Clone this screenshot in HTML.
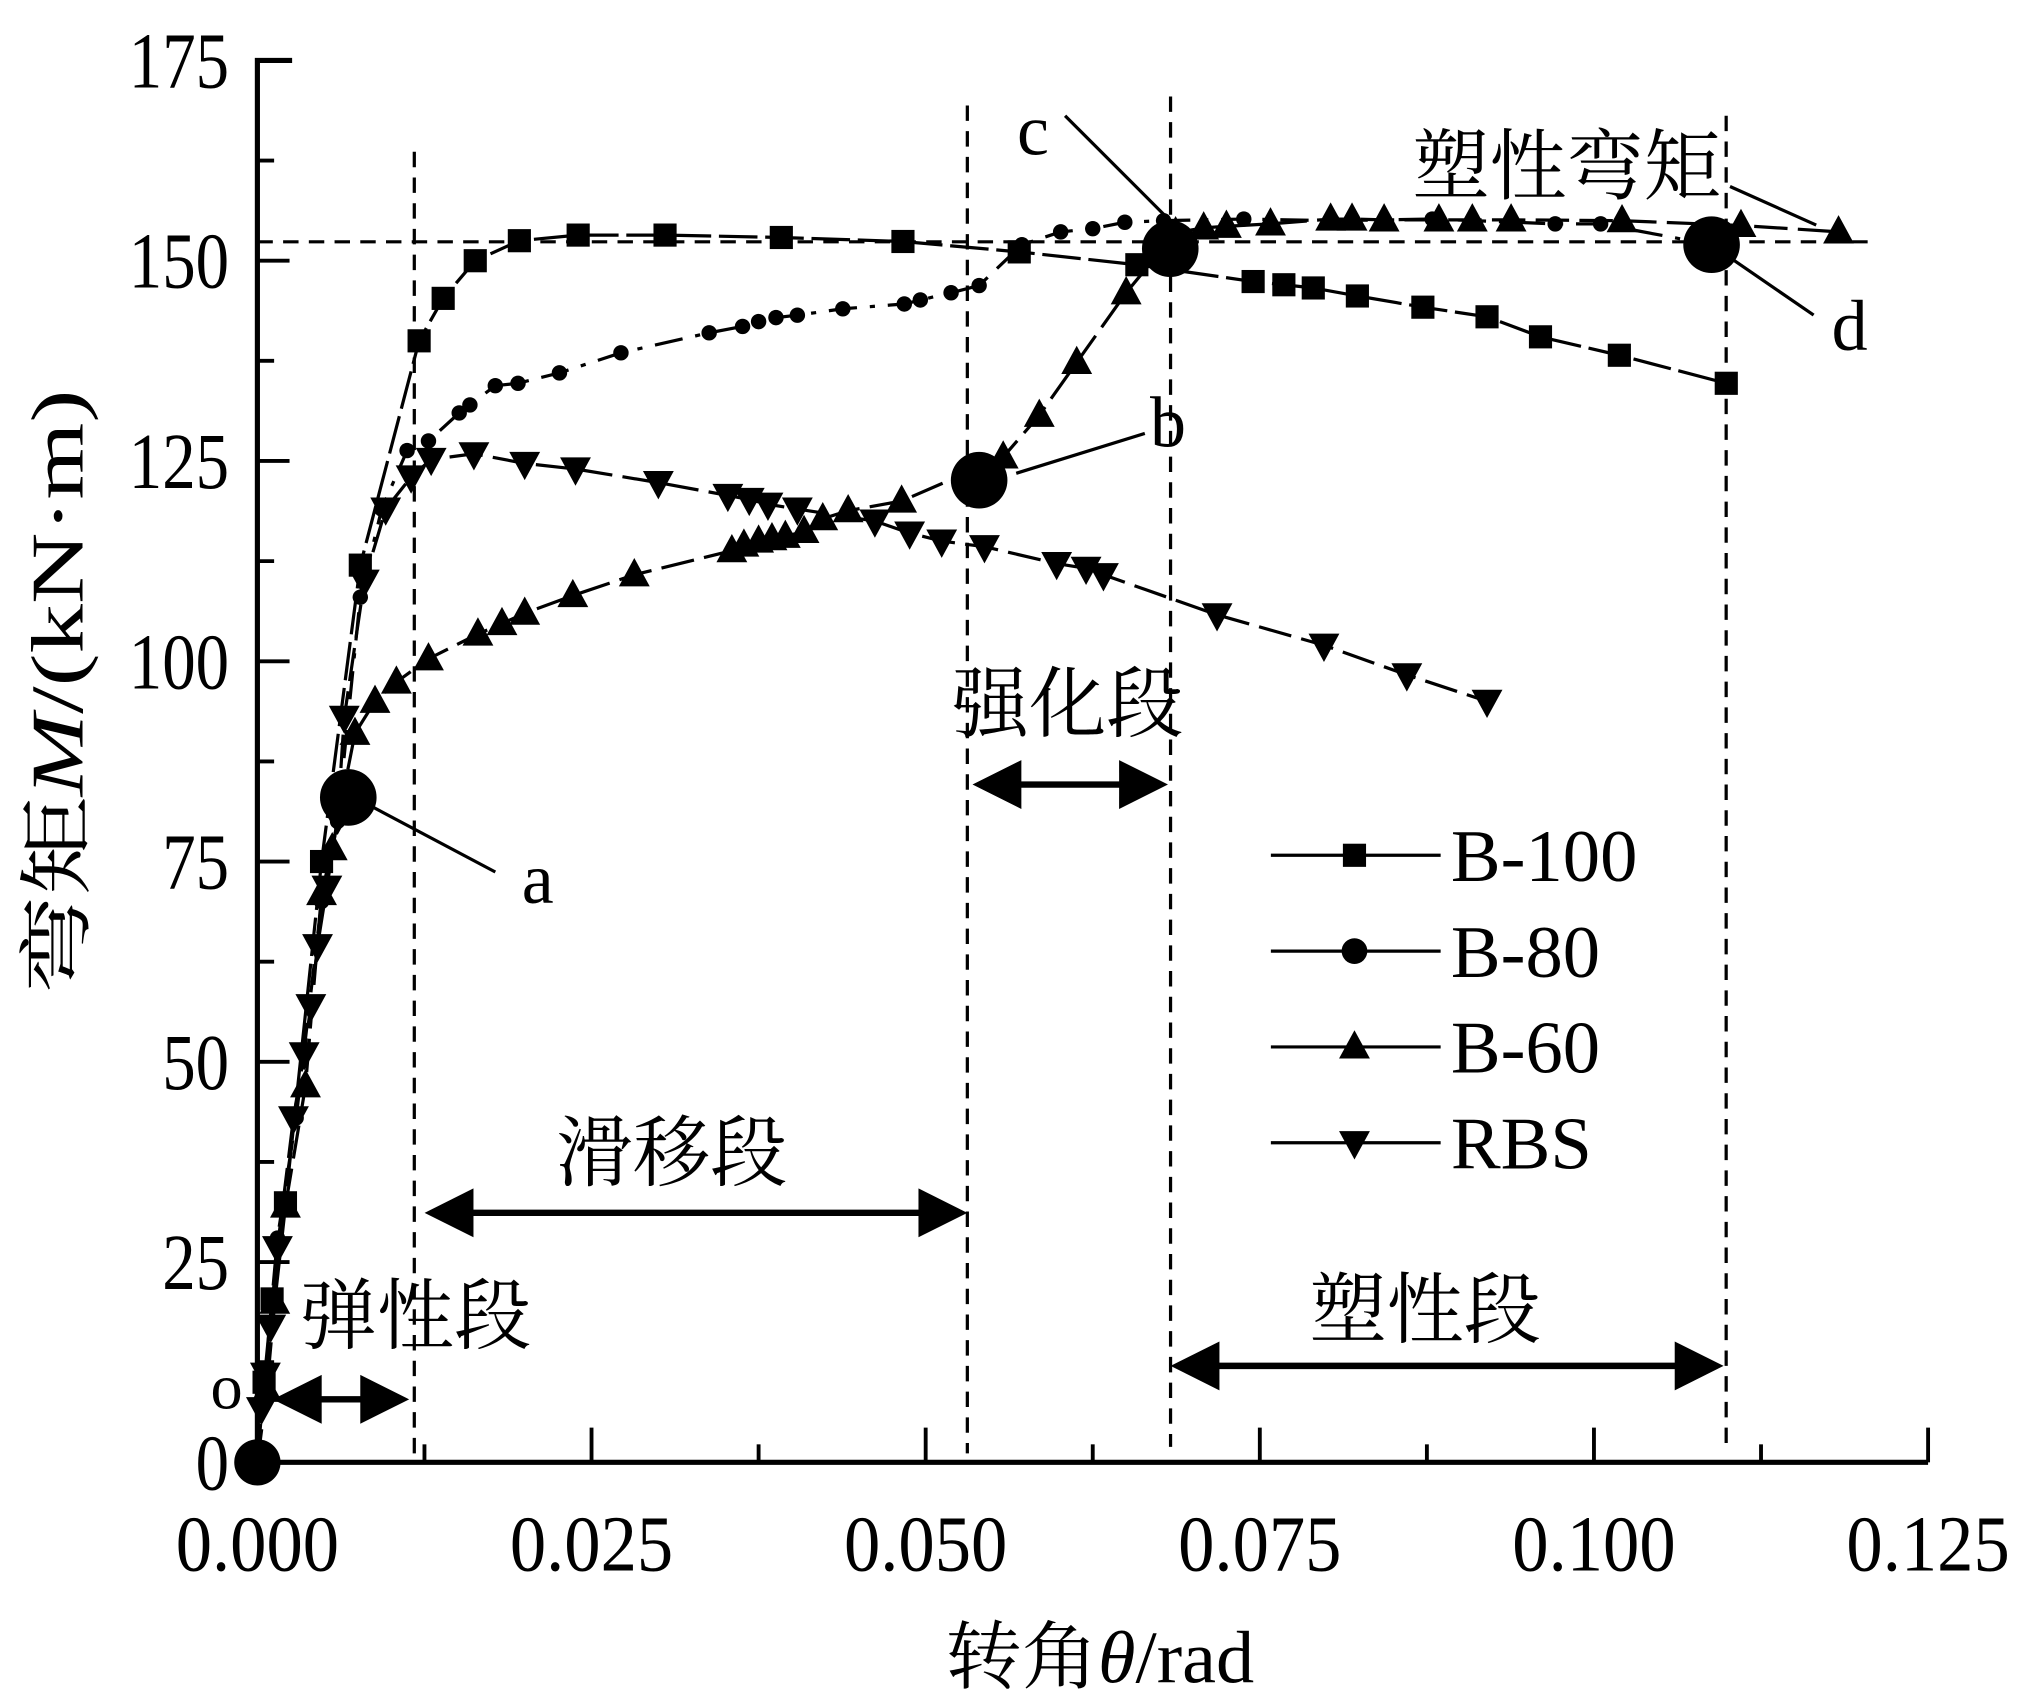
<!DOCTYPE html>
<html><head><meta charset="utf-8"><style>
html,body{margin:0;padding:0;background:#fff;}
svg{display:block;}
text{font-family:"Liberation Serif","Noto Serif CJK SC","Noto Sans CJK SC",serif;fill:#000;}
</style></head><body>
<svg id="chart" width="2017" height="1708" viewBox="0 0 1568 1328" xmlns="http://www.w3.org/2000/svg">
<g id="axes"></g>
<g id="guides"></g>
<g id="series"></g>
<g id="annot"></g>
<g id="legend"></g>
<text transform="translate(64,538) rotate(-90)" text-anchor="middle" font-size="58" textLength="470" lengthAdjust="spacingAndGlyphs">弯矩<tspan font-style="italic">M</tspan>/(kN·m)</text>
<text x="855" y="1308" text-anchor="middle" font-size="58" textLength="240" lengthAdjust="spacingAndGlyphs">转角<tspan font-style="italic">θ</tspan>/rad</text>
</svg>
<script>
const xTicks=[0,0.025,0.05,0.075,0.1,0.125];
const xTickLabels=["0.000","0.025","0.050","0.075","0.100","0.125"];
const yTicks=[0,25,50,75,100,125,150,175];
const yTickLabels=["0","25","50","75","100","125","150","175"];
const b100X=[0,0.0005,0.0011,0.0021,0.0048,0.0077,0.0121,0.0139,0.0163,0.0196,0.024,0.0305,0.0392,0.0483,0.057,0.0658,0.0745,0.0768,0.079,0.0823,0.0872,0.092,0.096,0.1019,0.1099];
const b100Y=[0,10,20.4,32.4,75,112,140,145.3,150,152.5,153.2,153.2,152.9,152.4,151.1,149.5,147.4,147,146.6,145.6,144.2,143,140.5,138.2,134.7];
const b80X=[0,0.0015,0.0029,0.0048,0.006,0.0077,0.0093,0.0112,0.0128,0.0151,0.0159,0.0178,0.0195,0.0226,0.0272,0.0338,0.0363,0.0375,0.0388,0.0404,0.0438,0.0484,0.0496,0.0519,0.054,0.0572,0.0601,0.0625,0.0649,0.0678,0.0738,0.0804,0.0879,0.0971,0.1005,0.1088];
const b80Y=[0,28,43,70,80,108,119,126.3,127.5,131,132,134.4,134.7,136,138.5,141,141.8,142.4,142.9,143.2,144,144.6,145.1,146,146.9,152,153.6,154,154.8,155,155.2,155,155.2,154.6,154.6,152];
const b60X=[0,0.0007,0.0013,0.0021,0.0036,0.0048,0.0056,0.0073,0.0088,0.0104,0.0128,0.0165,0.0183,0.02,0.0236,0.0282,0.0355,0.0364,0.0375,0.0385,0.0395,0.0409,0.0423,0.0442,0.0482,0.0558,0.0585,0.0613,0.065,0.0687,0.0708,0.0725,0.0758,0.0803,0.0819,0.0843,0.0884,0.0909,0.0938,0.1021,0.111,0.1183];
const b60Y=[0,9,20,32,47,71,76.6,91,95,97.4,100.3,103.4,104.7,106,108.2,110.8,113.8,114.5,115,115.3,115.6,116.2,117.8,118.8,120,125.5,130.7,137.3,146,153.5,154.1,154.3,154.6,155.2,155.2,155.1,155.1,155.1,155.1,155,154.4,153.6];
const rbsX=[0,0.0003,0.0006,0.001,0.0015,0.0027,0.0035,0.004,0.0045,0.0052,0.006,0.0065,0.008,0.0096,0.0115,0.013,0.0162,0.02,0.0238,0.03,0.0352,0.0368,0.0382,0.0404,0.0462,0.0488,0.0512,0.0544,0.0598,0.062,0.0633,0.0718,0.0798,0.086,0.092];
const rbsY=[0,6.7,11,17,26.8,43,51,57,64.5,71.8,80.4,93,110,119,123,125.2,125.9,124.7,124,122.3,120.7,120.2,119.6,119,117.5,116,115,114.3,112.2,111.6,110.8,105.8,102,98.3,95];
const keyX=[0.0068,0.054,0.0683,0.1088];
const keyY=[83,122.6,151.5,152];
const NS="http://www.w3.org/2000/svg";
const X0=200,X1=1499,Y0=1137,Y1=47;
const sx=v=>X0+(v/0.125)*(X1-X0);
const sy=v=>Y0-(v/175)*(Y0-Y1);
function mk(tag,attrs,parent){const e=document.createElementNS(NS,tag);for(const k in attrs)e.setAttribute(k,attrs[k]);parent.appendChild(e);return e;}
const axes=document.getElementById('axes');
let e=mk('path',{d:`M${X0+27},${Y1} H${X0} V${Y0} H${X1}`,fill:'none',stroke:'#000','stroke-width':4},axes);


yTicks.forEach((v,i)=>{
  const t=mk('line',{x1:X0,x2:X0+25,y1:sy(v),y2:sy(v),stroke:'#000','stroke-width':3},axes);
  
  
  if(i<yTicks.length-1){const m=mk('line',{x1:X0,x2:X0+13,y1:sy(v+12.5),y2:sy(v+12.5),stroke:'#000','stroke-width':3},axes);
  
  }
  const s=yTickLabels[i];
  const l=mk('text',{x:X0-22,y:sy(v)+21,'text-anchor':'end','font-size':62,textLength:26*s.length,lengthAdjust:'spacingAndGlyphs'},axes);
  l.textContent=s;
  
  
});
xTicks.forEach((v,i)=>{
  const t=mk('line',{x1:sx(v),x2:sx(v),y1:Y0,y2:Y0-27,stroke:'#000','stroke-width':3},axes);
  
  
  if(i<xTicks.length-1){const m=mk('line',{x1:sx(v+0.0125),x2:sx(v+0.0125),y1:Y0,y2:Y0-14,stroke:'#000','stroke-width':3},axes);
  
  }
  const l=mk('text',{x:sx(v),y:Y0+84,'text-anchor':'middle','font-size':62,textLength:127,lengthAdjust:'spacingAndGlyphs'},axes);
  l.textContent=xTickLabels[i];
  
  
});
const guides=document.getElementById('guides');
[[322,118,1137],[752,82,1130],[910,75,1125],[1342,90,1130]].forEach(g=>{
  const l=mk('line',{x1:g[0],x2:g[0],y1:g[1],y2:g[2],stroke:'#000','stroke-width':2.5,'stroke-dasharray':'12,8'},guides);
  
  
});
e=mk('line',{x1:X0,x2:1460,y1:188,y2:188,stroke:'#000','stroke-width':2.5,'stroke-dasharray':'12,8'},guides);


const ser=document.getElementById('series');
function marker(type,x,y,g){
  let m;
  if(type==='sq')m=mk('rect',{x:x-9,y:y-9,width:18,height:18},g);
  else if(type==='ci')m=mk('circle',{cx:x,cy:y,r:6},g);
  else if(type==='up')m=mk('path',{d:`M${x},${y-13} L${x+12},${y+9} L${x-12},${y+9}Z`},g);
  else m=mk('path',{d:`M${x},${y+13} L${x+12},${y-9} L${x-12},${y-9}Z`},g);
  return m;
}
function series(name,xs,ys,type,dash){
  const g=mk('g',{},ser);
  
  
  const p=mk('polyline',{points:xs.map((v,i)=>sx(v)+','+sy(ys[i])).join(' '),fill:'none',stroke:'#000','stroke-width':2.5,'stroke-dasharray':dash},g);
  
  
  xs.forEach((v,i)=>{if(i===0)return;const m=marker(type,sx(v),sy(ys[i]),g);
    
    });
}
series('series-b100',b100X,b100Y,'sq','30,6');
series('series-b80',b80X,b80Y,'ci','22,10,4,10');
series('series-b60',b60X,b60Y,'up','26,8');
series('series-rbs',rbsX,rbsY,'dn','26,8');
const an=document.getElementById('annot');
e=mk('circle',{cx:sx(0),cy:sy(0),r:18},an);


keyX.forEach((v,i)=>{const c=mk('circle',{cx:sx(v),cy:sy(keyY[i]),r:22},an);
  
  });
[[285,625,385,678],[790,368,890,337],[828,90,910,172],[1330,190,1410,245],[1345,145,1412,175]].forEach(l=>{
  const ln=mk('line',{x1:l[0],y1:l[1],x2:l[2],y2:l[3],stroke:'#000','stroke-width':2.5},an);
  
  });
[['a',418,702,56],['b',908,347,56],['c',803,120,56],['d',1438,272,56],['o',176,1095,50],['塑性弯矩',1218,150,60],['弹性段',323,1044,60],['滑移段',522,917,60],['强化段',830,568,60],['塑性段',1108,1039,60]].forEach(t=>{
  const tx=mk('text',{x:t[1],y:t[2],'text-anchor':'middle','font-size':t[3]},an);
  tx.textContent=t[0];
  
  });
function arrow(x1,x2,y){
  const g=mk('g',{},an);
  
  
  mk('line',{x1:x1+30,x2:x2-30,y1:y,y2:y,stroke:'#000','stroke-width':5},g);
  mk('path',{d:`M${x1},${y} L${x1+38},${y-19} L${x1+38},${y+19}Z`},g);
  mk('path',{d:`M${x2},${y} L${x2-38},${y-19} L${x2-38},${y+19}Z`},g);
}
arrow(212,318,1088);arrow(330,752,943);arrow(756,908,610);arrow(910,1340,1062);
const lg=document.getElementById('legend');
[['B-100','sq'],['B-80','ci'],['B-60','up'],['RBS','dn']].forEach((it,i)=>{
  const y=665+i*74.5;
  const g=mk('g',{},lg);
  
  
  mk('line',{x1:988,x2:1120,y1:y,y2:y,stroke:'#000','stroke-width':2.5},g);
  const m=it[1]==='ci'?mk('circle',{cx:1053,cy:y,r:10},g):marker(it[1],1053,y,g);
  const t=mk('text',{x:1128,y:y+20,'font-size':58},g);
  t.textContent=it[0];
});
</script>
</body></html>
